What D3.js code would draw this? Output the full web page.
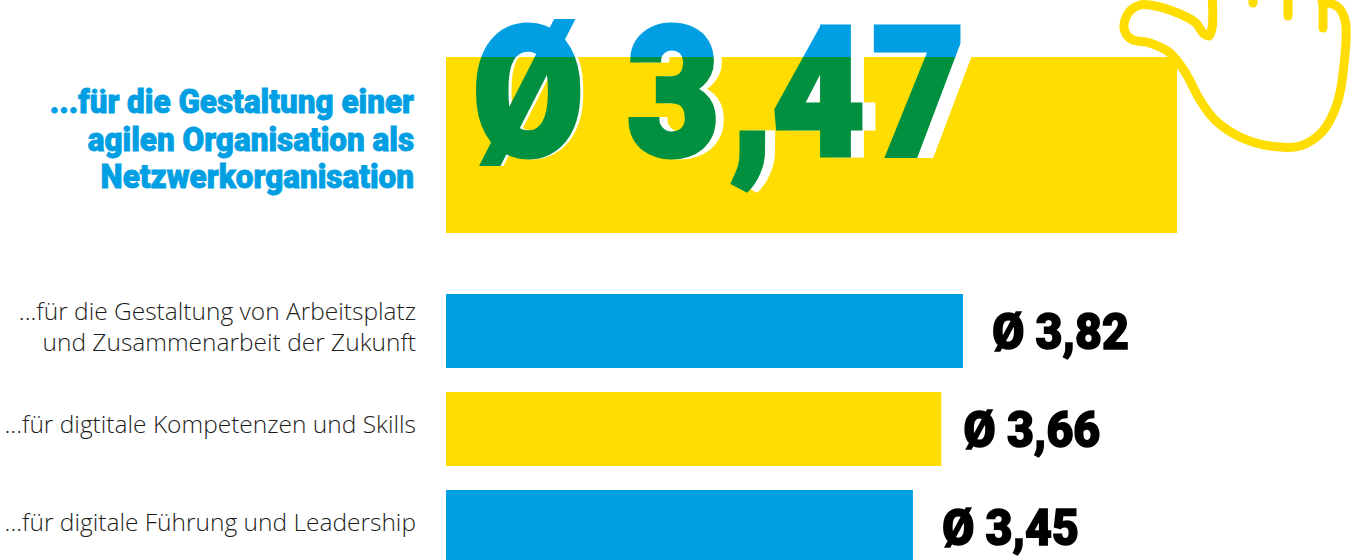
<!DOCTYPE html>
<html lang="de">
<head>
<meta charset="utf-8">
<script src="https://cdnjs.cloudflare.com/ajax/libs/d3/7.8.5/d3.min.js"></script>
<style>
  html, body { margin: 0; padding: 0; background: #fff; overflow: hidden; }
  svg { display: block; }
  .heavy { font-family: Roboto, "Liberation Sans", sans-serif; font-weight: 900; }
  .light { font-family: "Open Sans", sans-serif; font-weight: 300; font-size: 24.5px; fill: #1d1d1b; }
</style>
</head>
<body>
<svg id="chart" width="1360" height="560"></svg>
<script>
// Highlighted topic
const heroLabel = ["...für die Gestaltung einer", "agilen Organisation als", "Netzwerkorganisation"];
const heroValue = 3.47;
const heroText = "Ø 3,47";

// Remaining topics
const topics = ["arbeitsplatz", "kompetenzen", "fuehrung"];
const topicLabels = [
  ["...für die Gestaltung von Arbeitsplatz", "und Zusammenarbeit der Zukunft"],
  ["...für digtitale Kompetenzen und Skills"],
  ["...für digitale Führung und Leadership"]
];
const topicValues = [3.82, 3.66, 3.45];
const topicText = ["Ø 3,82", "Ø 3,66", "Ø 3,45"];

const BLUE = "#009fe3", YELLOW = "#ffdd00", GREEN = "#009040", BLACK = "#000";
const barLeft = 446, labelRight = 416;

const svg = d3.select("#chart");

// The highlighted bar runs on its own, wider scale; the rest share one scale.
const xHero = d3.scaleLinear().domain([0, heroValue]).range([barLeft, 1177]);
const x = d3.scaleLinear().domain([0, 3.82]).range([barLeft, 963]);
const y = d3.scaleBand().domain(topics).range([294, 564]).paddingInner(24 / 98).paddingOuter(0);

// Gap between a bar end and its value
const valueGap = [29, 22, 29];
const barColors = [BLUE, YELLOW, BLUE];

// Hero bar
const heroTop = 57, heroBottom = 233;
svg.append("rect")
  .attr("x", xHero(0)).attr("y", heroTop)
  .attr("width", xHero(heroValue) - xHero(0))
  .attr("height", heroBottom - heroTop)
  .attr("fill", YELLOW);

// Outline of the hand holding the bar
const handLine = d3.line().curve(d3.curveCatmullRom.alpha(0.6));
const handOutline = [
  [1212, -6], [1212, 28], [1209, 36], [1203, 33], [1196, 23], [1180, 14], [1150, 5], [1140, 5], [1129, 12],
  [1124, 28], [1131, 39], [1150, 43], [1170, 53], [1185, 72], [1200, 100], [1215, 120],
  [1240, 137], [1270, 146], [1300, 146], [1322, 132], [1337, 104], [1344, 65], [1345, 20],
  [1338, 7], [1322, 1]
];
const fingers = [
  [[1323, -4], [1323, 28]],
  [[1288, -4], [1288, 16]],
  [[1253, -4], [1253, 3]]
];
const handStyle = s => s.attr("fill", "none").attr("stroke", YELLOW)
  .attr("stroke-width", 9).attr("stroke-linecap", "round").attr("stroke-linejoin", "round");
svg.append("path").attr("d", handLine(handOutline)).call(handStyle);
svg.selectAll("path.finger").data(fingers).join("path")
  .attr("class", "finger").attr("d", d => handLine(d)).call(handStyle);

// Big average: white offset copy, then blue above the bar and green on it
svg.append("clipPath").attr("id", "on-bar").append("rect")
  .attr("x", 0).attr("y", heroTop).attr("width", 1360).attr("height", 560);
svg.append("clipPath").attr("id", "above-bar").append("rect")
  .attr("x", 0).attr("y", 0).attr("width", 1360).attr("height", heroTop);

// Left edge of each character in the big figure, and the drift of the white copy
const bigSqueeze = 0.89;
const bigChars = [472, 600, 627, 730, 772, 872];
const bigDrift = [3, 5, 8, 10, 13, 16];

const bigText = (fill, drift, clip) => {
  const xs = bigChars.map((c, i) => (c + (drift ? bigDrift[i] : 0)) / bigSqueeze).join(" ");
  const g = svg.append("g");
  if (clip) g.attr("clip-path", `url(#${clip})`);
  g.append("text").attr("class", "heavy")
    .attr("transform", `translate(0,155) scale(${bigSqueeze},1)`)
    .attr("x", xs).attr("y", 0)
    .attr("font-size", 180)
    .attr("fill", fill).attr("stroke", fill).attr("stroke-width", 5)
    .attr("stroke-linejoin", "miter")
    .text(heroText);
};
bigText("#fff", true, "on-bar");
bigText(BLUE, false, "above-bar");
bigText(GREEN, false, "on-bar");

// Hero caption
svg.append("g").selectAll("text").data(heroLabel).join("text")
  .attr("class", "heavy")
  .attr("transform", (d, i) => `translate(414,${113 + i * 37.5}) scale(0.925,1)`)
  .attr("text-anchor", "end").attr("font-size", 34)
  .attr("fill", BLUE).attr("stroke", BLUE).attr("stroke-width", 0.9)
  .text(d => d);

// Topic bars
svg.append("g").selectAll("rect").data(topics).join("rect")
  .attr("x", x(0))
  .attr("y", d => y(d))
  .attr("width", (d, i) => x(topicValues[i]) - x(0))
  .attr("height", y.bandwidth())
  .attr("fill", (d, i) => barColors[i]);

// Values beside the bars
svg.append("g").selectAll("text").data(topics).join("text")
  .attr("class", "heavy")
  .attr("transform", (d, i) => `translate(${x(topicValues[i]) + valueGap[i]},${y(d) + y.bandwidth() / 2 + 18}) scale(0.93,1)`)
  .attr("font-size", 50)
  .attr("fill", BLACK).attr("stroke", BLACK).attr("stroke-width", 1.5)
  .text((d, i) => topicText[i]);

// Topic captions, right aligned against the bars
topics.forEach((t, i) => {
  const lines = topicLabels[i];
  const baselines = lines.length === 2 ? [320, 351] : [433];
  const shift = i === 2 ? 98 : 0;
  svg.append("g").selectAll("text").data(lines).join("text")
    .attr("class", "light")
    .attr("x", labelRight)
    .attr("y", (d, j) => baselines[j] + shift)
    .attr("text-anchor", "end")
    .text(d => d);
});
</script>
</body>
</html>
